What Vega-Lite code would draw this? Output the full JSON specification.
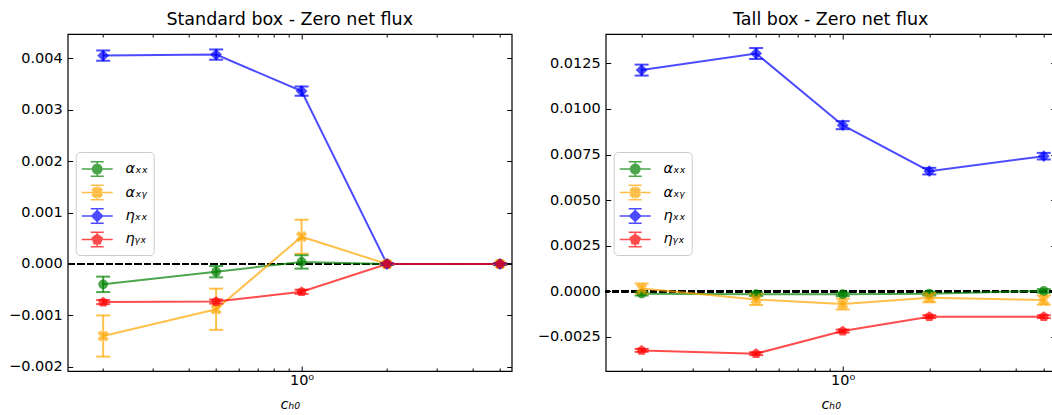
{
"$schema": "https://vega.github.io/schema/vega-lite/v6.json",
"background": "white",
"padding": {"left": 7.7, "top": 10, "right": 0, "bottom": 0},
"spacing": 23,
"config": {
  "view": {"stroke": "black", "strokeWidth": 1.2},
  "font": "DejaVu Sans",
  "axis": {"grid": false, "domain": false, "labelFont": "DejaVu Sans", "labelFontSize": 14.5, "labelColor": "black", "tickColor": "black", "tickWidth": 1, "titleFont": "DejaVu Sans", "titleFontWeight": "normal", "titleColor": "black"},
  "title": {"font": "DejaVu Sans", "fontSize": 17.5, "fontWeight": "normal", "color": "black", "offset": 5},
  "legend": {"orient": "none", "legendX": 8, "legendY": 118, "fillColor": "white", "strokeColor": "#cccccc", "cornerRadius": 4, "padding": 5, "symbolSize": 484, "symbolStrokeWidth": 1.5, "symbolOpacity": 0.7, "labelFont": "DejaVu Sans", "labelFontSize": 14.5, "labelFontStyle": "italic", "labelOffset": 20.7, "rowPadding": 0.5, "labelColor": "black"}
},
"data": {"values": [
  {"p":"S","s":"αₓₓ","x":0.2,"y":-0.000396,"e":0.00015},
  {"p":"S","s":"αₓₓ","x":0.5,"y":-0.00015,"e":0.00011},
  {"p":"S","s":"αₓₓ","x":1,"y":0.00004,"e":0.00013},
  {"p":"S","s":"αₓₓ","x":2,"y":0,"e":0},
  {"p":"S","s":"αₓₓ","x":5,"y":0,"e":0},
  {"p":"S","s":"αₓᵧ","x":0.2,"y":-0.0014,"e":0.0004},
  {"p":"S","s":"αₓᵧ","x":0.5,"y":-0.00088,"e":0.0004},
  {"p":"S","s":"αₓᵧ","x":1,"y":0.00053,"e":0.00033},
  {"p":"S","s":"αₓᵧ","x":2,"y":0,"e":0},
  {"p":"S","s":"αₓᵧ","x":5,"y":0,"e":0},
  {"p":"S","s":"ηₓₓ","x":0.2,"y":0.00405,"e":0.0001},
  {"p":"S","s":"ηₓₓ","x":0.5,"y":0.00407,"e":0.0001},
  {"p":"S","s":"ηₓₓ","x":1,"y":0.00336,"e":0.00009},
  {"p":"S","s":"ηₓₓ","x":2,"y":0,"e":0.00002},
  {"p":"S","s":"ηₓₓ","x":5,"y":0,"e":0.00002},
  {"p":"S","s":"ηᵧₓ","x":0.2,"y":-0.00074,"e":0.00004},
  {"p":"S","s":"ηᵧₓ","x":0.5,"y":-0.00073,"e":0.00004},
  {"p":"S","s":"ηᵧₓ","x":1,"y":-0.00054,"e":0.00004},
  {"p":"S","s":"ηᵧₓ","x":2,"y":0,"e":0.00001},
  {"p":"S","s":"ηᵧₓ","x":5,"y":0,"e":0.00001},
  {"p":"T","s":"αₓₓ","x":0.2,"y":-0.00013,"e":0.0001},
  {"p":"T","s":"αₓₓ","x":0.5,"y":-0.00016,"e":0.0001},
  {"p":"T","s":"αₓₓ","x":1,"y":-0.00016,"e":0.0001},
  {"p":"T","s":"αₓₓ","x":2,"y":-0.00013,"e":0.0001},
  {"p":"T","s":"αₓₓ","x":5,"y":0.00002,"e":0.0001},
  {"p":"T","s":"αₓᵧ","x":0.2,"y":0.00015,"e":0.00028},
  {"p":"T","s":"αₓᵧ","x":0.5,"y":-0.00045,"e":0.0003},
  {"p":"T","s":"αₓᵧ","x":1,"y":-0.0007,"e":0.0003},
  {"p":"T","s":"αₓᵧ","x":2,"y":-0.00035,"e":0.00025},
  {"p":"T","s":"αₓᵧ","x":5,"y":-0.00048,"e":0.00025},
  {"p":"T","s":"ηₓₓ","x":0.2,"y":0.01213,"e":0.0003},
  {"p":"T","s":"ηₓₓ","x":0.5,"y":0.01304,"e":0.0003},
  {"p":"T","s":"ηₓₓ","x":1,"y":0.00911,"e":0.00022},
  {"p":"T","s":"ηₓₓ","x":2,"y":0.00659,"e":0.00018},
  {"p":"T","s":"ηₓₓ","x":5,"y":0.00741,"e":0.00018},
  {"p":"T","s":"ηᵧₓ","x":0.2,"y":-0.00324,"e":0.00008},
  {"p":"T","s":"ηᵧₓ","x":0.5,"y":-0.00342,"e":0.00008},
  {"p":"T","s":"ηᵧₓ","x":1,"y":-0.00218,"e":0.00008},
  {"p":"T","s":"ηᵧₓ","x":2,"y":-0.00139,"e":0.00008},
  {"p":"T","s":"ηᵧₓ","x":5,"y":-0.00139,"e":0.00008}
]},
"hconcat": [
{
  "title": {"text": "Standard box - Zero net flux"},
  "width": 444, "height": 337,
  "transform": [{"filter": "datum.p == 'S'"}],
  "layer": [
    {"mark": {"type": "rule", "strokeDash": [6.5, 3], "strokeWidth": 2, "color": "black"},
     "encoding": {"y": {"datum": 0, "type": "quantitative", "scale": {"domain": [-0.00208, 0.00447], "nice": false, "zero": false}, "axis": null}}},
    {"mark": {"type": "line", "strokeWidth": 2, "opacity": 0.7},
     "encoding": {
       "x": {"field": "x", "type": "quantitative", "scale": {"type": "log", "domain": [0.15, 5.5], "nice": false}, "axis": {"orient": "bottom", "values": [1], "labelExpr": "'10⁰'", "tickSize": -5, "labelPadding": 8, "title": "cₕ₀", "titleFontStyle": "italic", "titleFontSize": 14.5, "titlePadding": 10}},
       "y": {"field": "y", "type": "quantitative", "scale": {"domain": [-0.00208, 0.00447], "nice": false, "zero": false}, "axis": {"orient": "left", "values": [-0.002, -0.001, 0, 0.001, 0.002, 0.003, 0.004], "format": ".3f", "tickSize": -5, "labelPadding": 10.5, "title": null}},
       "color": {"field": "s", "type": "nominal", "scale": {"domain": ["ηᵧₓ", "ηₓₓ", "αₓᵧ", "αₓₓ"], "range": ["#ff0000", "#0000ff", "#ffa500", "#008000"]}, "legend": null}}},
    {"mark": {"type": "errorbar", "thickness": 2, "opacity": 0.7, "ticks": {"size": 14}},
     "encoding": {
       "x": {"field": "x", "type": "quantitative", "scale": {"type": "log", "domain": [0.15, 5.5], "nice": false}, "axis": null},
       "y": {"field": "y", "type": "quantitative", "scale": {"domain": [-0.00208, 0.00447], "nice": false, "zero": false}, "axis": null},
       "yError": {"field": "e"},
       "color": {"field": "s", "type": "nominal", "scale": {"domain": ["ηᵧₓ", "ηₓₓ", "αₓᵧ", "αₓₓ"], "range": ["#ff0000", "#0000ff", "#ffa500", "#008000"]}, "legend": null}}},
    {"transform": [{"filter": "datum.s == 'αₓₓ'"}],
     "mark": {"type": "point", "filled": true, "shape": "circle", "size": 95, "opacity": 0.7},
     "encoding": {
       "x": {"field": "x", "type": "quantitative", "scale": {"type": "log", "domain": [0.15, 5.5], "nice": false}, "axis": {"orient": "top", "values": [1], "labels": false, "tickSize": -5, "title": null}},
       "y": {"field": "y", "type": "quantitative", "scale": {"domain": [-0.00208, 0.00447], "nice": false, "zero": false}, "axis": {"orient": "right", "values": [-0.002, -0.001, 0, 0.001, 0.002, 0.003, 0.004], "labels": false, "tickSize": -5, "title": null}},
       "color": {"field": "s", "type": "nominal", "scale": {"domain": ["ηᵧₓ", "ηₓₓ", "αₓᵧ", "αₓₓ"], "range": ["#ff0000", "#0000ff", "#ffa500", "#008000"]}, "legend": null}}},
    {"transform": [{"filter": "datum.s == 'αₓᵧ'"}],
     "mark": {"type": "point", "filled": true, "shape": "M0.467,-0.947L0.947,-0.467L0.481,0L0.947,0.467L0.467,0.947L0,0.481L-0.467,0.947L-0.947,0.467L-0.481,0L-0.947,-0.467L-0.467,-0.947L0,-0.481Z", "size": 140, "opacity": 0.7},
     "encoding": {
       "x": {"field": "x", "type": "quantitative", "scale": {"type": "log", "domain": [0.15, 5.5], "nice": false}, "axis": {"orient": "bottom", "values": [0.2, 0.3, 0.4, 0.5, 0.6, 0.7, 0.8, 0.9, 2, 3, 4, 5], "labels": false, "tickSize": -3, "title": null}},
       "y": {"field": "y", "type": "quantitative", "scale": {"domain": [-0.00208, 0.00447], "nice": false, "zero": false}, "axis": null},
       "color": {"field": "s", "type": "nominal", "scale": {"domain": ["ηᵧₓ", "ηₓₓ", "αₓᵧ", "αₓₓ"], "range": ["#ff0000", "#0000ff", "#ffa500", "#008000"]}, "legend": null}}},
    {"transform": [{"filter": "datum.s == 'ηₓₓ'"}],
     "mark": {"type": "point", "filled": true, "shape": "M0,-1L1,0L0,1L-1,0Z", "size": 140, "opacity": 0.7},
     "encoding": {
       "x": {"field": "x", "type": "quantitative", "scale": {"type": "log", "domain": [0.15, 5.5], "nice": false}, "axis": {"orient": "top", "values": [0.2, 0.3, 0.4, 0.5, 0.6, 0.7, 0.8, 0.9, 2, 3, 4, 5], "labels": false, "tickSize": -3, "title": null}},
       "y": {"field": "y", "type": "quantitative", "scale": {"domain": [-0.00208, 0.00447], "nice": false, "zero": false}, "axis": null},
       "color": {"field": "s", "type": "nominal", "scale": {"domain": ["ηᵧₓ", "ηₓₓ", "αₓᵧ", "αₓₓ"], "range": ["#ff0000", "#0000ff", "#ffa500", "#008000"]}, "legend": null}}},
    {"transform": [{"filter": "datum.s == 'ηᵧₓ'"}],
     "mark": {"type": "point", "filled": true, "shape": "M0,-1L0.951,-0.309L0.588,0.809L-0.588,0.809L-0.951,-0.309Z", "size": 115, "opacity": 0.7},
     "encoding": {
       "x": {"field": "x", "type": "quantitative", "scale": {"type": "log", "domain": [0.15, 5.5], "nice": false}, "axis": null},
       "y": {"field": "y", "type": "quantitative", "scale": {"domain": [-0.00208, 0.00447], "nice": false, "zero": false}, "axis": null},
       "color": {"field": "s", "type": "nominal", "scale": {"domain": ["ηᵧₓ", "ηₓₓ", "αₓᵧ", "αₓₓ"], "range": ["#ff0000", "#0000ff", "#ffa500", "#008000"]}, "legend": null}}},
    {"transform": [{"filter": "false"}],
     "mark": {"type": "point", "filled": true, "opacity": 0.7, "strokeWidth": 1.5},
     "encoding": {
       "fill": {"field": "s", "type": "nominal", "title": null, "scale": {"domain": ["αₓₓ", "αₓᵧ", "ηₓₓ", "ηᵧₓ"], "range": ["#008000", "#ffa500", "#0000ff", "#ff0000"]}},
       "stroke": {"field": "s", "type": "nominal", "title": null, "scale": {"domain": ["αₓₓ", "αₓᵧ", "ηₓₓ", "ηᵧₓ"], "range": ["#008000", "#ffa500", "#0000ff", "#ff0000"]}},
       "shape": {"field": "s", "type": "nominal", "title": null, "scale": {"domain": ["αₓₓ", "αₓᵧ", "ηₓₓ", "ηᵧₓ"], "range": [
           "M-1,0L1.818,0M0.409,-0.66L0.409,0.66M-0.18,-0.66L1,-0.66M-0.18,0.66L1,0.66M-0.021,0A0.43,0.43 0 1 0 0.839,0A0.43,0.43 0 1 0 -0.021,0Z",
           "M-1,0L1.818,0M0.409,-0.66L0.409,0.66M-0.18,-0.66L1,-0.66M-0.18,0.66L1,0.66M0.628,-0.445L0.854,-0.219L0.635,0L0.854,0.219L0.628,0.445L0.409,0.226L0.19,0.445L-0.036,0.219L0.183,0L-0.036,-0.219L0.19,-0.445L0.409,-0.226Z",
           "M-1,0L1.818,0M0.409,-0.66L0.409,0.66M-0.18,-0.66L1,-0.66M-0.18,0.66L1,0.66M0.409,-0.5L0.909,0L0.409,0.5L-0.091,0Z",
           "M-1,0L1.818,0M0.409,-0.66L0.409,0.66M-0.18,-0.66L1,-0.66M-0.18,0.66L1,0.66M0.409,-0.47L0.856,-0.145L0.685,0.38L0.133,0.38L-0.038,-0.145Z"]}}}}
  ],
  "resolve": {"axis": {"x": "independent", "y": "independent"}}
},
{
  "title": {"text": "Tall box - Zero net flux"},
  "width": 450, "height": 337,
  "transform": [{"filter": "datum.p == 'T'"}],
  "layer": [
    {"mark": {"type": "rule", "strokeDash": [6.5, 3], "strokeWidth": 2, "color": "black"},
     "encoding": {"y": {"datum": 0, "type": "quantitative", "scale": {"domain": [-0.00437, 0.01411], "nice": false, "zero": false}, "axis": null}}},
    {"mark": {"type": "line", "strokeWidth": 2, "opacity": 0.7},
     "encoding": {
       "x": {"field": "x", "type": "quantitative", "scale": {"type": "log", "domain": [0.15, 5.5], "nice": false}, "axis": {"orient": "bottom", "values": [1], "labelExpr": "'10⁰'", "tickSize": -5, "labelPadding": 8, "title": "cₕ₀", "titleFontStyle": "italic", "titleFontSize": 14.5, "titlePadding": 10}},
       "y": {"field": "y", "type": "quantitative", "scale": {"domain": [-0.00437, 0.01411], "nice": false, "zero": false}, "axis": {"orient": "left", "values": [-0.0025, 0, 0.0025, 0.005, 0.0075, 0.01, 0.0125], "format": ".4f", "tickSize": -5, "labelPadding": 10.5, "title": null}},
       "color": {"field": "s", "type": "nominal", "scale": {"domain": ["ηᵧₓ", "ηₓₓ", "αₓᵧ", "αₓₓ"], "range": ["#ff0000", "#0000ff", "#ffa500", "#008000"]}, "legend": null}}},
    {"mark": {"type": "errorbar", "thickness": 2, "opacity": 0.7, "ticks": {"size": 14}},
     "encoding": {
       "x": {"field": "x", "type": "quantitative", "scale": {"type": "log", "domain": [0.15, 5.5], "nice": false}, "axis": null},
       "y": {"field": "y", "type": "quantitative", "scale": {"domain": [-0.00437, 0.01411], "nice": false, "zero": false}, "axis": null},
       "yError": {"field": "e"},
       "color": {"field": "s", "type": "nominal", "scale": {"domain": ["ηᵧₓ", "ηₓₓ", "αₓᵧ", "αₓₓ"], "range": ["#ff0000", "#0000ff", "#ffa500", "#008000"]}, "legend": null}}},
    {"transform": [{"filter": "datum.s == 'αₓₓ'"}],
     "mark": {"type": "point", "filled": true, "shape": "circle", "size": 95, "opacity": 0.7},
     "encoding": {
       "x": {"field": "x", "type": "quantitative", "scale": {"type": "log", "domain": [0.15, 5.5], "nice": false}, "axis": {"orient": "top", "values": [1], "labels": false, "tickSize": -5, "title": null}},
       "y": {"field": "y", "type": "quantitative", "scale": {"domain": [-0.00437, 0.01411], "nice": false, "zero": false}, "axis": {"orient": "right", "values": [-0.0025, 0, 0.0025, 0.005, 0.0075, 0.01, 0.0125], "labels": false, "tickSize": -5, "title": null}},
       "color": {"field": "s", "type": "nominal", "scale": {"domain": ["ηᵧₓ", "ηₓₓ", "αₓᵧ", "αₓₓ"], "range": ["#ff0000", "#0000ff", "#ffa500", "#008000"]}, "legend": null}}},
    {"transform": [{"filter": "datum.s == 'αₓᵧ'"}],
     "mark": {"type": "point", "filled": true, "shape": "M0.467,-0.947L0.947,-0.467L0.481,0L0.947,0.467L0.467,0.947L0,0.481L-0.467,0.947L-0.947,0.467L-0.481,0L-0.947,-0.467L-0.467,-0.947L0,-0.481Z", "size": 140, "opacity": 0.7},
     "encoding": {
       "x": {"field": "x", "type": "quantitative", "scale": {"type": "log", "domain": [0.15, 5.5], "nice": false}, "axis": {"orient": "bottom", "values": [0.2, 0.3, 0.4, 0.5, 0.6, 0.7, 0.8, 0.9, 2, 3, 4, 5], "labels": false, "tickSize": -3, "title": null}},
       "y": {"field": "y", "type": "quantitative", "scale": {"domain": [-0.00437, 0.01411], "nice": false, "zero": false}, "axis": null},
       "color": {"field": "s", "type": "nominal", "scale": {"domain": ["ηᵧₓ", "ηₓₓ", "αₓᵧ", "αₓₓ"], "range": ["#ff0000", "#0000ff", "#ffa500", "#008000"]}, "legend": null}}},
    {"transform": [{"filter": "datum.s == 'ηₓₓ'"}],
     "mark": {"type": "point", "filled": true, "shape": "M0,-1L1,0L0,1L-1,0Z", "size": 140, "opacity": 0.7},
     "encoding": {
       "x": {"field": "x", "type": "quantitative", "scale": {"type": "log", "domain": [0.15, 5.5], "nice": false}, "axis": {"orient": "top", "values": [0.2, 0.3, 0.4, 0.5, 0.6, 0.7, 0.8, 0.9, 2, 3, 4, 5], "labels": false, "tickSize": -3, "title": null}},
       "y": {"field": "y", "type": "quantitative", "scale": {"domain": [-0.00437, 0.01411], "nice": false, "zero": false}, "axis": null},
       "color": {"field": "s", "type": "nominal", "scale": {"domain": ["ηᵧₓ", "ηₓₓ", "αₓᵧ", "αₓₓ"], "range": ["#ff0000", "#0000ff", "#ffa500", "#008000"]}, "legend": null}}},
    {"transform": [{"filter": "datum.s == 'ηᵧₓ'"}],
     "mark": {"type": "point", "filled": true, "shape": "M0,-1L0.951,-0.309L0.588,0.809L-0.588,0.809L-0.951,-0.309Z", "size": 115, "opacity": 0.7},
     "encoding": {
       "x": {"field": "x", "type": "quantitative", "scale": {"type": "log", "domain": [0.15, 5.5], "nice": false}, "axis": null},
       "y": {"field": "y", "type": "quantitative", "scale": {"domain": [-0.00437, 0.01411], "nice": false, "zero": false}, "axis": null},
       "color": {"field": "s", "type": "nominal", "scale": {"domain": ["ηᵧₓ", "ηₓₓ", "αₓᵧ", "αₓₓ"], "range": ["#ff0000", "#0000ff", "#ffa500", "#008000"]}, "legend": null}}},
    {"transform": [{"filter": "false"}],
     "mark": {"type": "point", "filled": true, "opacity": 0.7, "strokeWidth": 1.5},
     "encoding": {
       "fill": {"field": "s", "type": "nominal", "title": null, "scale": {"domain": ["αₓₓ", "αₓᵧ", "ηₓₓ", "ηᵧₓ"], "range": ["#008000", "#ffa500", "#0000ff", "#ff0000"]}},
       "stroke": {"field": "s", "type": "nominal", "title": null, "scale": {"domain": ["αₓₓ", "αₓᵧ", "ηₓₓ", "ηᵧₓ"], "range": ["#008000", "#ffa500", "#0000ff", "#ff0000"]}},
       "shape": {"field": "s", "type": "nominal", "title": null, "scale": {"domain": ["αₓₓ", "αₓᵧ", "ηₓₓ", "ηᵧₓ"], "range": [
           "M-1,0L1.818,0M0.409,-0.66L0.409,0.66M-0.18,-0.66L1,-0.66M-0.18,0.66L1,0.66M-0.021,0A0.43,0.43 0 1 0 0.839,0A0.43,0.43 0 1 0 -0.021,0Z",
           "M-1,0L1.818,0M0.409,-0.66L0.409,0.66M-0.18,-0.66L1,-0.66M-0.18,0.66L1,0.66M0.628,-0.445L0.854,-0.219L0.635,0L0.854,0.219L0.628,0.445L0.409,0.226L0.19,0.445L-0.036,0.219L0.183,0L-0.036,-0.219L0.19,-0.445L0.409,-0.226Z",
           "M-1,0L1.818,0M0.409,-0.66L0.409,0.66M-0.18,-0.66L1,-0.66M-0.18,0.66L1,0.66M0.409,-0.5L0.909,0L0.409,0.5L-0.091,0Z",
           "M-1,0L1.818,0M0.409,-0.66L0.409,0.66M-0.18,-0.66L1,-0.66M-0.18,0.66L1,0.66M0.409,-0.47L0.856,-0.145L0.685,0.38L0.133,0.38L-0.038,-0.145Z"]}}}}
  ],
  "resolve": {"axis": {"x": "independent", "y": "independent"}}
}
],
"resolve": {
  "scale": {"color": "independent", "fill": "independent", "stroke": "independent", "shape": "independent"},
  "legend": {"color": "independent", "fill": "independent", "stroke": "independent", "shape": "independent"}
}
}
